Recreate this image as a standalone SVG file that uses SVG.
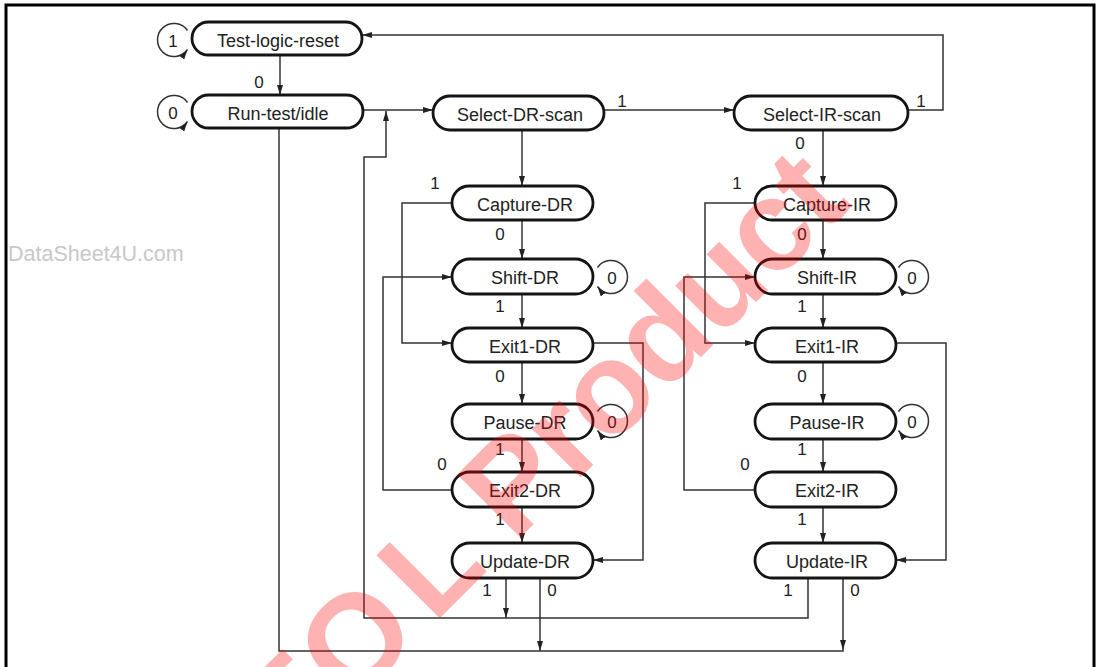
<svg xmlns="http://www.w3.org/2000/svg" width="1100" height="667" viewBox="0 0 1100 667">
<defs>
<style>
.node rect{fill:#fff;stroke:#141414;stroke-width:2.8}
.node text{font-family:"Liberation Sans",Arial,sans-serif;font-size:18px;fill:#222;text-anchor:middle}
.lbl{font-family:"Liberation Sans",Arial,sans-serif;font-size:17px;fill:#222;text-anchor:middle}
.c path{fill:none;stroke:#333;stroke-width:1.5}
.c .a{marker-end:url(#ah)}
</style>
<marker id="ah" viewBox="0 0 10 6" refX="10" refY="3" markerWidth="10" markerHeight="6" markerUnits="userSpaceOnUse" orient="auto">
<path d="M0,0 L10,3 L0,6 z" fill="#222"/>
</marker>
</defs>
<rect width="1100" height="667" fill="#fff"/>
<text x="8" y="261" font-family="Liberation Sans, Arial, sans-serif" font-size="21.5" fill="#c8c8c8">DataSheet4U.com</text>
<rect x="6" y="5" width="1088" height="700" fill="none" stroke="#000" stroke-width="3"/>

<g class="c" id="connectors">
<path class="a" d="M280 55 V95"/>
<path class="a" d="M363 110 H433"/>
<path class="a" d="M604 110 H734"/>
<path class="a" d="M908 110 H943 V35 H362"/>
<path class="a" d="M522 130 V186"/>
<path class="a" d="M823 130 V186"/>
<path class="a" d="M522 220 V259"/>
<path class="a" d="M522 294 V328"/>
<path class="a" d="M522 362 V404"/>
<path class="a" d="M522 439 V472"/>
<path class="a" d="M522 507 V543"/>
<path class="a" d="M452 203 H402 V343 H452"/>
<path class="a" d="M452 490 H383 V277 H452"/>
<path class="a" d="M593 343 H643 V560 H593"/>
<path class="a" d="M823 220 V259"/>
<path class="a" d="M823 294 V328"/>
<path class="a" d="M823 362 V404"/>
<path class="a" d="M823 439 V472"/>
<path class="a" d="M823 507 V543"/>
<path class="a" d="M755 203 H705 V343 H755"/>
<path class="a" d="M755 490 H684 V277 H755"/>
<path class="a" d="M896 343 H946 V560 H896"/>
<path class="a" d="M506 578 V618"/>
<path class="a" d="M540 578 V651"/>
<path class="a" d="M808 578 V618 H364 V157 H386 V111"/>
<path class="a" d="M843 578 V650"/>
<path d="M843 650 V651 H279 V128"/>
<path class="a" d="M187.5 30.5 A16.5 16.5 0 1 0 187.5 49.5"/>
<path class="a" d="M187.5 102.5 A16.5 16.5 0 1 0 187.5 121.5"/>
<path class="a" d="M597.5 267.5 A16.5 16.5 0 1 1 597.5 286.5"/>
<path class="a" d="M597.5 411.5 A16.5 16.5 0 1 1 597.5 430.5"/>
<path class="a" d="M898.5 267.5 A16.5 16.5 0 1 1 898.5 286.5"/>
<path class="a" d="M898.5 411.5 A16.5 16.5 0 1 1 898.5 430.5"/>
</g>

<g id="labels">
<text class="lbl" x="173" y="47">1</text>
<text class="lbl" x="173" y="119">0</text>
<text class="lbl" x="259" y="88">0</text>
<text class="lbl" x="622" y="107">1</text>
<text class="lbl" x="921" y="107">1</text>
<text class="lbl" x="800" y="149">0</text>
<text class="lbl" x="435" y="189">1</text>
<text class="lbl" x="500" y="240">0</text>
<text class="lbl" x="500" y="312">1</text>
<text class="lbl" x="500" y="382">0</text>
<text class="lbl" x="500" y="455">1</text>
<text class="lbl" x="442" y="470">0</text>
<text class="lbl" x="500" y="525">1</text>
<text class="lbl" x="487" y="596">1</text>
<text class="lbl" x="552" y="596">0</text>
<text class="lbl" x="612" y="284">0</text>
<text class="lbl" x="612" y="428">0</text>
<text class="lbl" x="737" y="189">1</text>
<text class="lbl" x="802" y="240">0</text>
<text class="lbl" x="802" y="312">1</text>
<text class="lbl" x="802" y="382">0</text>
<text class="lbl" x="802" y="455">1</text>
<text class="lbl" x="745" y="470">0</text>
<text class="lbl" x="802" y="525">1</text>
<text class="lbl" x="788" y="596">1</text>
<text class="lbl" x="855" y="596">0</text>
<text class="lbl" x="912" y="284">0</text>
<text class="lbl" x="912" y="428">0</text>
</g>

<g class="node" id="test-logic-reset"><rect x="192" y="22" width="170" height="33" rx="16.5"/><text x="278" y="47">Test-logic-reset</text></g>
<g class="node" id="run-test-idle"><rect x="192" y="95" width="171" height="33" rx="16.5"/><text x="278" y="120">Run-test/idle</text></g>
<g class="node" id="select-dr-scan"><rect x="433" y="96" width="171" height="34" rx="17"/><text x="520" y="121">Select-DR-scan</text></g>
<g class="node" id="select-ir-scan"><rect x="734" y="96" width="174" height="34" rx="17"/><text x="822" y="121">Select-IR-scan</text></g>
<g class="node" id="capture-dr"><rect x="452" y="186" width="141" height="34" rx="17"/><text x="525" y="211">Capture-DR</text></g>
<g class="node" id="shift-dr"><rect x="452" y="259" width="141" height="35" rx="17.5"/><text x="525" y="284">Shift-DR</text></g>
<g class="node" id="exit1-dr"><rect x="452" y="328" width="141" height="34" rx="17"/><text x="525" y="353">Exit1-DR</text></g>
<g class="node" id="pause-dr"><rect x="452" y="404" width="141" height="35" rx="17.5"/><text x="525" y="429">Pause-DR</text></g>
<g class="node" id="exit2-dr"><rect x="452" y="472" width="141" height="35" rx="17.5"/><text x="525" y="497">Exit2-DR</text></g>
<g class="node" id="update-dr"><rect x="452" y="543" width="141" height="35" rx="17.5"/><text x="525" y="568">Update-DR</text></g>
<g class="node" id="capture-ir"><rect x="755" y="186" width="141" height="34" rx="17"/><text x="827" y="211">Capture-IR</text></g>
<g class="node" id="shift-ir"><rect x="755" y="259" width="141" height="35" rx="17.5"/><text x="827" y="284">Shift-IR</text></g>
<g class="node" id="exit1-ir"><rect x="755" y="328" width="141" height="34" rx="17"/><text x="827" y="353">Exit1-IR</text></g>
<g class="node" id="pause-ir"><rect x="755" y="404" width="141" height="35" rx="17.5"/><text x="827" y="429">Pause-IR</text></g>
<g class="node" id="exit2-ir"><rect x="755" y="472" width="141" height="35" rx="17.5"/><text x="827" y="497">Exit2-IR</text></g>
<g class="node" id="update-ir"><rect x="755" y="543" width="141" height="35" rx="17.5"/><text x="827" y="568">Update-IR</text></g>

<text transform="translate(290,768) rotate(-45)" font-family="Liberation Sans, Arial, sans-serif" font-weight="bold" font-size="130" fill="#ff0000" fill-opacity="0.3">EO<tspan dx="15">L</tspan><tspan dx="35" letter-spacing="-2">Product</tspan></text>
</svg>
